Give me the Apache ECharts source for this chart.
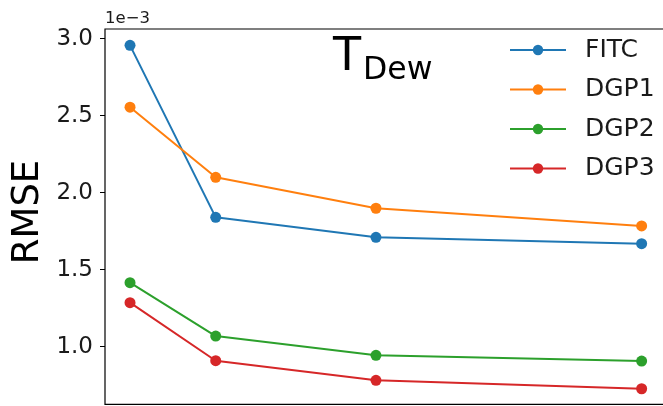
<!DOCTYPE html>
<html>
<head>
<meta charset="utf-8">
<script src="https://cdn.jsdelivr.net/npm/echarts@6/dist/echarts.min.js"></script>
<style>
  html, body { margin: 0; padding: 0; background: #fff; }
  #chart { width: 663px; height: 406px; }
</style>
</head>
<body>
<div id="chart"></div>
<script>
// Training-set sizes (arbitrary units) along the hidden x axis
const xValues = [1, 2, 3.87, 6.97];
const seriesNames = ['FITC', 'DGP1', 'DGP2', 'DGP3'];
// RMSE of the dew-point temperature prediction
const fitc = [2.957e-3, 1.840e-3, 1.710e-3, 1.669e-3];
const dgp1 = [2.555e-3, 2.100e-3, 1.899e-3, 1.784e-3];
const dgp2 = [1.416e-3, 1.069e-3, 0.944e-3, 0.907e-3];
const dgp3 = [1.286e-3, 0.909e-3, 0.782e-3, 0.727e-3];
const yTicks = [1.0e-3, 1.5e-3, 2.0e-3, 2.5e-3, 3.0e-3];
const yScale = 1e-3;
const colors = ['#1f77b4', '#ff7f0e', '#2ca02c', '#d62728'];

const FONT = 'DejaVu Sans';
const TEXT = '#1a1a1a';
const values = [fitc, dgp1, dgp2, dgp3];

const chart = echarts.init(document.getElementById('chart'), null, { renderer: 'canvas' });

chart.setOption({
  animation: false,
  backgroundColor: '#fff',
  color: colors,
  grid: [
    // data grid: spans 0.5e-3 .. 3.5e-3, partly beyond the canvas
    { left: 105, right: -4, top: -38.3, bottom: -17.7, containLabel: false, outerBoundsMode: 'none' },
    // frame of the axes box
    { left: 105, right: -4, top: 29, bottom: 1.7, containLabel: false, outerBoundsMode: 'none',
      show: true, borderColor: '#000', borderWidth: 1.2, backgroundColor: 'transparent' }
  ],
  xAxis: [
    { type: 'value', gridIndex: 0, min: 0.708, max: 7.266,
      axisLine: { show: false }, axisTick: { show: false }, axisLabel: { show: false }, splitLine: { show: false } },
    { type: 'value', gridIndex: 1, min: 0, max: 1,
      axisLine: { show: false }, axisTick: { show: false }, axisLabel: { show: false }, splitLine: { show: false } }
  ],
  yAxis: [
    { type: 'value', gridIndex: 0, min: 0.5e-3, max: 3.5e-3, interval: 0.5e-3,
      axisLine: { show: false },
      axisTick: { show: true, length: 5, lineStyle: { color: '#000', width: 1 } },
      axisLabel: {
        show: true, margin: 12, fontSize: 23, fontFamily: FONT, color: TEXT,
        formatter: v => {
          const hit = yTicks.find(t => Math.abs(t - v) < 1e-9);
          return hit === undefined ? '' : (hit / yScale).toFixed(1);
        }
      },
      splitLine: { show: false } },
    { type: 'value', gridIndex: 1, min: 0, max: 1,
      axisLine: { show: false }, axisTick: { show: false }, axisLabel: { show: false }, splitLine: { show: false } }
  ],
  legend: {
    orient: 'vertical',
    left: 504,
    top: 32,
    itemWidth: 56,
    itemHeight: 13,
    itemGap: 13.5,
    textStyle: { fontSize: 25, fontFamily: FONT, color: TEXT, lineHeight: 26, padding: [0, 0, 0, 14] },
    data: seriesNames
  },
  series: seriesNames.map((name, i) => ({
    name: name,
    type: 'line',
    xAxisIndex: 0,
    yAxisIndex: 0,
    data: xValues.map((x, j) => [x, values[i][j]]),
    symbol: 'circle',
    symbolSize: 11,
    showSymbol: true,
    lineStyle: { width: 2, color: colors[i] },
    itemStyle: { color: colors[i] },
    emphasis: { disabled: true }
  })),
  graphic: [
    { type: 'text', x: 105, y: 10, style: { text: '1e\u22123', font: '16.5px "DejaVu Sans"', fill: TEXT, textAlign: 'left', textVerticalAlign: 'top' } },
    { type: 'text', x: 333, y: 58, style: { text: 'T', font: '46px "DejaVu Sans"', fill: '#000', textAlign: 'left', textVerticalAlign: 'middle' } },
    { type: 'text', x: 363, y: 71.3, style: { text: 'Dew', font: '31.5px "DejaVu Sans"', fill: '#000', textAlign: 'left', textVerticalAlign: 'middle' } },
    { type: 'text', x: 28, y: 212, rotation: Math.PI / 2, style: { text: 'RMSE', font: '37px "DejaVu Sans"', fill: '#000', textAlign: 'center', textVerticalAlign: 'middle' } }
  ]
});
</script>
</body>
</html>
